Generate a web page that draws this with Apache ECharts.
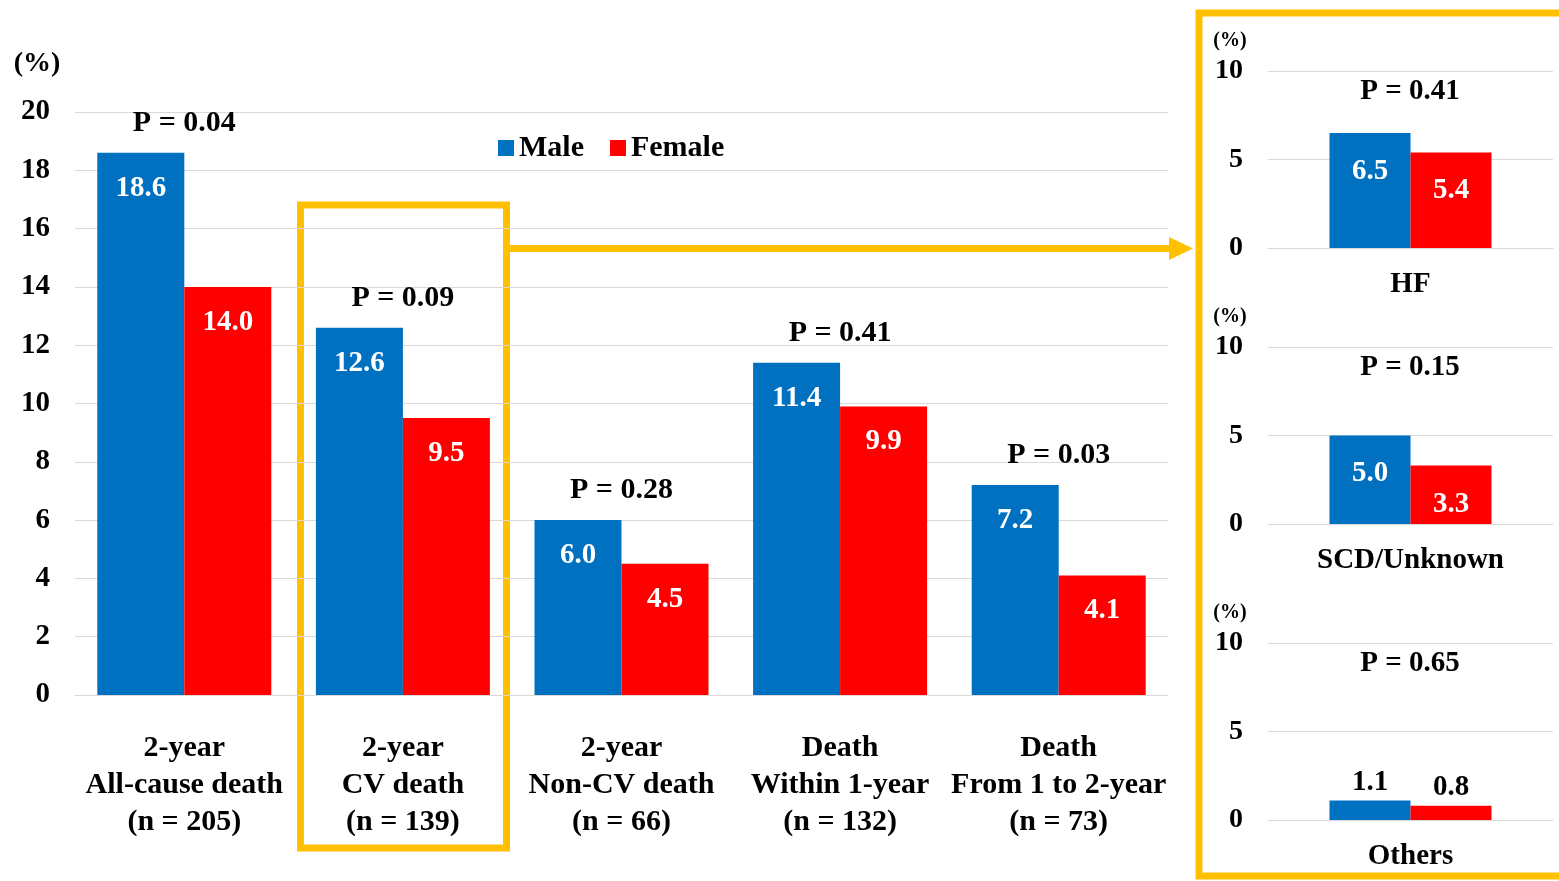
<!DOCTYPE html>
<html>
<head>
<meta charset="utf-8">
<script src="https://cdn.jsdelivr.net/npm/echarts@6/dist/echarts.min.js"></script>
<style>
  html, body { margin: 0; padding: 0; background: #fff; }
  #chart { width: 1559px; height: 881px; }
</style>
</head>
<body>
<div id="chart"></div>
<script>
// main panel
const categories = [
  '2-year\nAll-cause death\n(n = 205)',
  '2-year\nCV death\n(n = 139)',
  '2-year\nNon-CV death\n(n = 66)',
  'Death\nWithin 1-year\n(n = 132)',
  'Death\nFrom 1 to 2-year\n(n = 73)'
];
const maleValues = [18.6, 12.6, 6.0, 11.4, 7.2];
const femaleValues = [14.0, 9.5, 4.5, 9.9, 4.1];
const pValues = ['P = 0.04', 'P = 0.09', 'P = 0.28', 'P = 0.41', 'P = 0.03'];
const mainTicks = [0, 2, 4, 6, 8, 10, 12, 14, 16, 18, 20];

// CV death breakdown
const subCategories = ['HF', 'SCD/Unknown', 'Others'];
const subMale = [6.5, 5.0, 1.1];
const subFemale = [5.4, 3.3, 0.8];
const subP = ['P = 0.41', 'P = 0.15', 'P = 0.65'];
const subTicks = [0, 5, 10];

const FONT = '"Liberation Serif", "Times New Roman", serif';
const BLUE = '#0070C0';
const RED = '#FF0000';
const ORANGE = '#FFC000';
const GRIDLINE = '#d9d9d9';

const chart = echarts.init(document.getElementById('chart'));

const subTops = [71, 347, 643];
const grids = [{ left: 75, top: 112, width: 1093, height: 583 }];
subTops.forEach(t => grids.push({ left: 1268, top: t, width: 285, height: 177 }));

const xAxes = [{
  type: 'category', gridIndex: 0, data: categories,
  axisTick: { show: false },
  axisLine: { lineStyle: { color: GRIDLINE, width: 1 } },
  axisLabel: { interval: 0, margin: 35, color: '#000', fontFamily: FONT, fontWeight: 'bold', fontSize: 30, lineHeight: 37 }
}];
const yAxes = [{
  type: 'value', gridIndex: 0, min: mainTicks[0], max: mainTicks[mainTicks.length - 1], interval: 2,
  axisLine: { show: false }, axisTick: { show: false },
  splitLine: { lineStyle: { color: GRIDLINE, width: 1 } },
  axisLabel: { margin: 25, color: '#000', fontFamily: FONT, fontWeight: 'bold', fontSize: 29 }
}];
subCategories.forEach((c, k) => {
  xAxes.push({
    type: 'category', gridIndex: k + 1, data: [c],
    axisTick: { show: false },
    axisLine: { lineStyle: { color: GRIDLINE, width: 1 } },
    axisLabel: { margin: 22, color: '#000', fontFamily: FONT, fontWeight: 'bold', fontSize: 29 }
  });
  yAxes.push({
    type: 'value', gridIndex: k + 1, min: subTicks[0], max: subTicks[subTicks.length - 1], interval: 5,
    axisLine: { show: false }, axisTick: { show: false },
    splitLine: { lineStyle: { color: GRIDLINE, width: 1 } },
    axisLabel: { margin: 25, color: '#000', fontFamily: FONT, fontWeight: 'bold', fontSize: 28 }
  });
});

const inLabel = (dist) => ({
  show: true, position: 'insideTop', distance: dist, color: '#fff',
  fontFamily: FONT, fontWeight: 'bold', fontSize: 29,
  formatter: p => p.value.toFixed(1)
});

const series = [
  { name: 'Male', type: 'bar', xAxisIndex: 0, yAxisIndex: 0, data: maleValues, barWidth: 87, barGap: '0%',
    itemStyle: { color: BLUE }, label: inLabel(21) },
  { name: 'Female', type: 'bar', xAxisIndex: 0, yAxisIndex: 0, data: femaleValues, barWidth: 87, barGap: '0%',
    itemStyle: { color: RED }, label: inLabel(21) },
  { type: 'scatter', xAxisIndex: 0, yAxisIndex: 0, symbolSize: 1, silent: true,
    itemStyle: { color: 'rgba(0,0,0,0)' },
    data: maleValues.map((m, i) => [i, Math.max(m, femaleValues[i])]),
    label: { show: true, position: 'top', distance: 14, color: '#000', opacity: 1, fontFamily: FONT, fontWeight: 'bold', fontSize: 30,
      formatter: p => pValues[p.dataIndex] } }
];

subCategories.forEach((c, k) => {
  const last = k === subCategories.length - 1;
  const lab = last
    ? { show: true, position: 'top', distance: 4, color: '#000', fontFamily: FONT, fontWeight: 'bold', fontSize: 29, formatter: p => p.value.toFixed(1) }
    : inLabel(24);
  series.push(
    { name: 'Male', type: 'bar', xAxisIndex: k + 1, yAxisIndex: k + 1, data: [subMale[k]], barWidth: 81, barGap: '0%',
      itemStyle: { color: BLUE }, label: lab },
    { name: 'Female', type: 'bar', xAxisIndex: k + 1, yAxisIndex: k + 1, data: [subFemale[k]], barWidth: 81, barGap: '0%',
      itemStyle: { color: RED }, label: lab }
  );
});

const txt = (x, y, text, size) => ({
  type: 'text', x: x, y: y, silent: true,
  style: { text: text, fill: '#000', font: 'bold ' + size + 'px ' + FONT, align: 'center', verticalAlign: 'middle' }
});

const graphic = [
  txt(37, 64, '(%)', 28),
  // orange highlight and arrow
  { type: 'rect', shape: { x: 300.5, y: 205, width: 206, height: 643 }, style: { fill: null, stroke: ORANGE, lineWidth: 7 } },
  { type: 'line', shape: { x1: 507, y1: 248.5, x2: 1172, y2: 248.5 }, style: { stroke: ORANGE, lineWidth: 7 } },
  { type: 'polygon', shape: { points: [[1169, 237], [1193, 248.5], [1169, 260]] }, style: { fill: ORANGE } },
  { type: 'rect', shape: { x: 1199, y: 13, width: 380, height: 863 }, style: { fill: null, stroke: ORANGE, lineWidth: 7 } }
];
subTops.forEach((t, k) => {
  graphic.push(txt(1230, t - 30, '(%)', 20));
  graphic.push(txt(1410, t + 21, subP[k], 29));
});

chart.setOption({
  animation: false,
  textStyle: { fontFamily: FONT },
  legend: {
    data: ['Male', 'Female'], left: 493, top: 128, icon: 'rect', itemWidth: 16, itemHeight: 16, itemGap: 26,
    textStyle: { color: '#000', fontFamily: FONT, fontWeight: 'bold', fontSize: 30 }
  },
  grid: grids,
  xAxis: xAxes,
  yAxis: yAxes,
  series: series,
  graphic: graphic
});
</script>
</body>
</html>
